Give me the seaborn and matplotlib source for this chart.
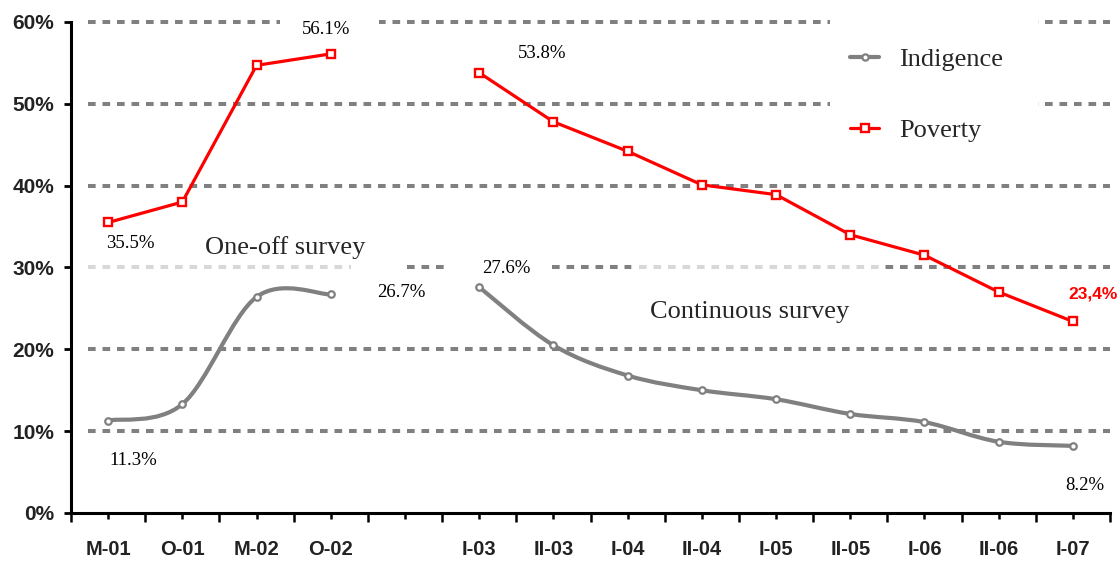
import numpy as np
import pandas as pd
import seaborn as sns
import matplotlib.pyplot as plt
from matplotlib.path import Path
from matplotlib.patches import PathPatch, Rectangle
from matplotlib.lines import Line2D

sns.set_theme(style="ticks")

# data (the empty slot is the break between the two surveys)
periods = ["M-01", "O-01", "M-02", "O-02", "", "I-03", "II-03", "I-04", "II-04",
           "I-05", "II-05", "I-06", "II-06", "I-07"]
survey = ["One-off"] * 4 + [None] + ["Continuous"] * 9
poverty = [35.5, 38.0, 54.7, 56.1, None, 53.8, 47.8, 44.2, 40.1, 38.9, 34.0, 31.5, 27.0, 23.4]
indigence = [11.3, 13.3, 26.4, 26.7, None, 27.6, 20.5, 16.8, 15.0, 13.9, 12.1, 11.1, 8.7, 8.2]
yticks = [0, 10, 20, 30, 40, 50, 60]

RED = "#ff0000"
GREY = "#808080"
SERIF = "Liberation Serif"
SANS = "Liberation Sans"


def smooth_path(xs, ys):
    # Catmull-Rom style smoothing (like the spreadsheet "smoothed line")
    pts = np.column_stack([xs, ys]).astype(float)
    n = len(pts)
    verts = [pts[0]]
    codes = [Path.MOVETO]
    for i in range(n - 1):
        p0 = pts[max(i - 1, 0)]
        p1 = pts[i]
        p2 = pts[i + 1]
        p3 = pts[min(i + 2, n - 1)]
        verts += [p1 + (p2 - p0) / 6, p2 - (p3 - p1) / 6, p2]
        codes += [Path.CURVE4] * 3
    return Path(verts, codes)


df = pd.DataFrame({"pos": range(len(periods)), "period": periods, "survey": survey,
                   "Poverty": poverty, "Indigence": indigence}).dropna(subset=["survey"])

fig = plt.figure(figsize=(11.2, 5.62), dpi=100)
ax = fig.add_axes([0.0634, 0.0872, 0.9277, 0.8737])

ax.set_xlim(-0.5, 13.5)
ax.set_ylim(0, 60)

# dashed grid (starts a little right of the y axis)
for y in yticks[1:]:
    ax.axhline(y, xmin=0.23 / 14, xmax=1.0, color=GREY, lw=2.9, dashes=(1.9, 1.7),
               solid_capstyle="butt", dash_capstyle="butt", zorder=1, clip_on=False)

# white patches that hide parts of the grid in the original
covers = [
    (2.32, 57.0, 1.33, 4.5, 1.0),    # behind 56.1% label
    (9.73, 42.0, 2.80, 19.0, 1.0),   # legend area
    (-0.27, 29.2, 3.54, 1.6, 0.7),
    (3.27, 29.2, 0.68, 1.6, 1.0),
    (4.55, 29.2, 1.42, 1.6, 1.0),
    (7.05, 29.2, 3.38, 1.6, 0.7),
]
for x0, y0, w, h, a in covers:
    ax.add_patch(Rectangle((x0, y0), w, h, facecolor="white", edgecolor="none",
                           alpha=a, zorder=2, clip_on=False))

# poverty: straight line with open squares
sns.lineplot(data=df, x="pos", y="Poverty", units="survey", estimator=None, ax=ax,
             color=RED, lw=2.3, marker="s", ms=5.2, mfc="white", mec=RED, mew=1.7,
             legend=False, zorder=4)

# indigence: smoothed line with open circles
for name, grp in df.groupby("survey", sort=False):
    ax.add_patch(PathPatch(smooth_path(grp["pos"], grp["Indigence"]), facecolor="none",
                           edgecolor=GREY, lw=3.0, zorder=3, capstyle="round"))
sns.scatterplot(data=df, x="pos", y="Indigence", ax=ax, marker="o", s=22,
                facecolor="white", edgecolor=GREY, linewidth=1.6, zorder=4, legend=False)

# data labels
def lab(x, y, v):
    ax.text(x, y, f"{v}%", ha="center", va="center", fontsize=13.5, family=SERIF,
            color="black", zorder=5)

lab(2.93, 59.1, poverty[3])
lab(5.85, 56.2, poverty[5])
lab(0.30, 32.9, poverty[0])
lab(5.36, 29.9, indigence[5])
lab(3.95, 26.9, indigence[3])
lab(0.34, 6.4, indigence[0])
lab(13.16, 3.4, indigence[13])
ax.text(13.27, 26.7, f"{poverty[13]}%".replace(".", ","), ha="center", va="center",
        fontsize=12.5, family=SANS, weight="bold", color=RED, zorder=5)

ax.text(2.39, 32.4, "One-off survey", ha="center", va="center", fontsize=19,
        family=SERIF, zorder=5)
ax.text(8.64, 24.6, "Continuous survey", ha="center", va="center", fontsize=19,
        family=SERIF, zorder=5)

# legend
handles = [
    Line2D([], [], color=GREY, lw=3.0, marker="o", ms=4.5, mfc="white", mec=GREY, mew=1.6),
    Line2D([], [], color=RED, lw=2.3, marker="s", ms=5.2, mfc="white", mec=RED, mew=1.7),
]
leg = ax.legend(handles, ["Indigence", "Poverty"], loc="upper left",
                bbox_to_anchor=(0.75, 0.948), frameon=False, borderpad=0,
                borderaxespad=0, handlelength=1.1, handletextpad=0.75,
                labelspacing=1.8, prop={"family": SERIF, "size": 19})
leg.set_zorder(6)

# axes
ax.set_xticks(range(len(periods)))
ax.set_xticklabels(periods, fontsize=14.5, fontweight="bold", family=SANS, color="#222222")
ax.set_xticks(np.arange(-0.5, len(periods), 1), minor=True)
ax.set_yticks(yticks)
ax.set_yticklabels([f"{v}%" for v in yticks], fontsize=15, fontweight="bold",
                   family=SANS, color="#222222")
ax.tick_params(axis="x", which="major", length=4.3, width=1.8, pad=15, color="black",
               bottom=True)
ax.tick_params(axis="x", which="minor", length=6.5, width=1.8, color="black", bottom=True)
ax.tick_params(axis="y", which="major", length=5, width=2, pad=7, color="black", left=True)
ax.set_xlabel("")
ax.set_ylabel("")
for side in ["top", "right"]:
    ax.spines[side].set_visible(False)
for side in ["left", "bottom"]:
    ax.spines[side].set_color("black")
    ax.spines[side].set_linewidth(2.2)

fig.savefig("out.png", dpi=100, facecolor="white")
